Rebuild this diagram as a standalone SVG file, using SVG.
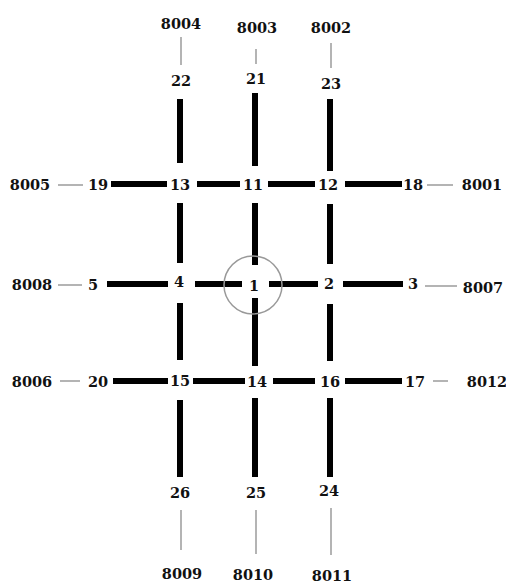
<svg xmlns="http://www.w3.org/2000/svg" width="506" height="584" viewBox="0 0 506 584">
<style>
text{font-family:"DejaVu Serif","Liberation Serif",serif;font-weight:bold;font-size:14.5px;fill:#111;text-anchor:middle;dominant-baseline:central}
.g{stroke:#b4b4b4;stroke-width:2}
.b{stroke:#000;stroke-width:6}
</style>
<rect width="506" height="584" fill="#fff"/>
<g id="connectors">
<line class="g" x1="181" y1="37" x2="181" y2="65"/>
<line class="g" x1="256" y1="49" x2="256" y2="64"/>
<line class="g" x1="331" y1="43" x2="331" y2="68"/>
<line class="g" x1="58" y1="185" x2="83" y2="185"/>
<line class="g" x1="427" y1="185" x2="453" y2="185"/>
<line class="g" x1="58" y1="285" x2="82" y2="285"/>
<line class="g" x1="425" y1="286" x2="457" y2="286"/>
<line class="g" x1="60" y1="381" x2="80" y2="381"/>
<line class="g" x1="433" y1="381" x2="448" y2="381"/>
<line class="g" x1="181" y1="510" x2="181" y2="550"/>
<line class="g" x1="256" y1="510" x2="256" y2="554"/>
<line class="g" x1="331" y1="508" x2="331" y2="555"/>
<line class="b" x1="111" y1="184" x2="167" y2="184"/>
<line class="b" x1="197" y1="184" x2="240" y2="184"/>
<line class="b" x1="268" y1="184" x2="315" y2="184"/>
<line class="b" x1="345" y1="184" x2="402" y2="184"/>
<line class="b" x1="107" y1="284" x2="168" y2="284"/>
<line class="b" x1="195" y1="284" x2="242" y2="284"/>
<line class="b" x1="269" y1="284" x2="318" y2="284"/>
<line class="b" x1="343" y1="284" x2="403" y2="284"/>
<line class="b" x1="113" y1="381" x2="168" y2="381"/>
<line class="b" x1="193" y1="381" x2="245" y2="381"/>
<line class="b" x1="273" y1="381" x2="315" y2="381"/>
<line class="b" x1="345" y1="381" x2="402" y2="381"/>
<line class="b" x1="180" y1="99" x2="180" y2="163"/>
<line class="b" x1="180" y1="203" x2="180" y2="263"/>
<line class="b" x1="180" y1="303" x2="180" y2="360"/>
<line class="b" x1="180" y1="400" x2="180" y2="477"/>
<line class="b" x1="255" y1="93" x2="255" y2="166"/>
<line class="b" x1="255" y1="203" x2="255" y2="265"/>
<line class="b" x1="255" y1="298" x2="255" y2="366"/>
<line class="b" x1="255" y1="398" x2="255" y2="477"/>
<line class="b" x1="330" y1="99" x2="330" y2="171"/>
<line class="b" x1="330" y1="204" x2="330" y2="264"/>
<line class="b" x1="330" y1="304" x2="330" y2="361"/>
<line class="b" x1="330" y1="398" x2="330" y2="477"/>
</g>
<g id="n8004"><text x="181" y="23">8004</text></g>
<g id="n8003"><text x="257" y="27">8003</text></g>
<g id="n8002"><text x="331" y="27">8002</text></g>
<g id="n22"><text x="181" y="80">22</text></g>
<g id="n21"><text x="256" y="78">21</text></g>
<g id="n23"><text x="331" y="83">23</text></g>
<g id="n8005"><text x="30" y="184">8005</text></g>
<g id="n19"><text x="98" y="184">19</text></g>
<g id="n13"><text x="180" y="184">13</text></g>
<g id="n11"><text x="253" y="184">11</text></g>
<g id="n12"><text x="328" y="184">12</text></g>
<g id="n18"><text x="413" y="184">18</text></g>
<g id="n8001"><text x="482" y="184">8001</text></g>
<g id="n8008"><text x="32" y="284">8008</text></g>
<g id="n5"><text x="93" y="284">5</text></g>
<g id="n4"><text x="179" y="281">4</text></g>
<g id="n1"><circle cx="253" cy="285" r="29" fill="none" stroke="#999" stroke-width="1.5"/><text x="254" y="285">1</text></g>
<g id="n2"><text x="329" y="283">2</text></g>
<g id="n3"><text x="413" y="283">3</text></g>
<g id="n8007"><text x="483" y="287">8007</text></g>
<g id="n8006"><text x="32" y="381">8006</text></g>
<g id="n20"><text x="98" y="381">20</text></g>
<g id="n15"><text x="180" y="380">15</text></g>
<g id="n14"><text x="257" y="381">14</text></g>
<g id="n16"><text x="330" y="381">16</text></g>
<g id="n17"><text x="415" y="381">17</text></g>
<g id="n8012"><text x="487" y="381">8012</text></g>
<g id="n26"><text x="180" y="492">26</text></g>
<g id="n25"><text x="256" y="492">25</text></g>
<g id="n24"><text x="329" y="490">24</text></g>
<g id="n8009"><text x="182" y="573">8009</text></g>
<g id="n8010"><text x="253" y="574">8010</text></g>
<g id="n8011"><text x="332" y="575">8011</text></g>
</svg>
